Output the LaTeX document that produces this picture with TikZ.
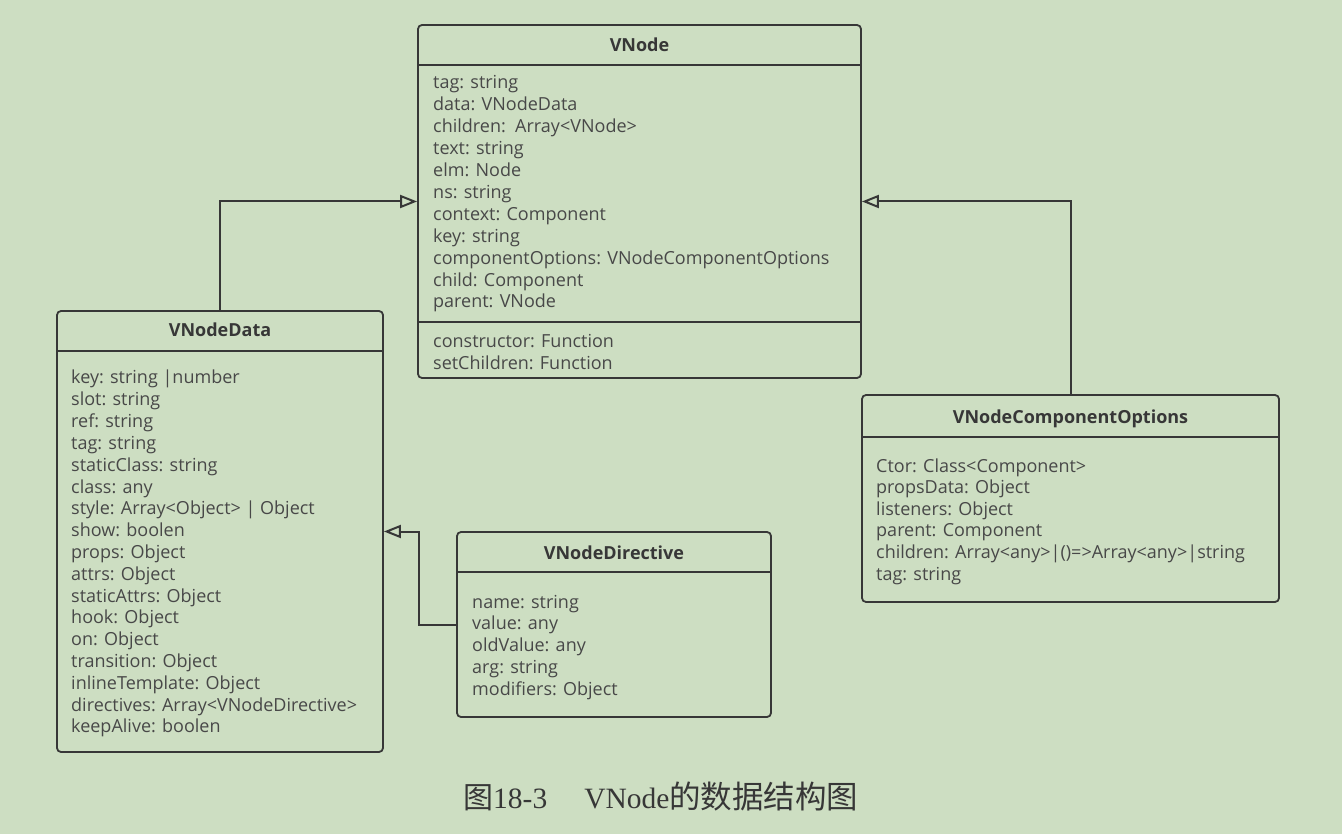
\documentclass[tikz,border=0pt]{standalone}
\usepackage{fontspec}
\setmainfont{Open Sans}
\newfontfamily\capserif{Liberation Serif}
\newfontfamily\cjk{Noto Sans CJK SC}
\usetikzlibrary{arrows.meta}
\definecolor{bg}{RGB}{205,222,194}
\definecolor{ln}{RGB}{55,55,55}
\definecolor{tx}{RGB}{72,72,72}
\begin{document}
\begin{tikzpicture}[x=1pt,y=-1pt,
  cls/.style={draw=ln, line width=1.8pt, rounded corners=4pt, inner sep=0pt},
  attr/.style={anchor=base west, inner sep=0pt, font=\fontsize{18}{22}\selectfont, text=tx},
  ttl/.style={anchor=base, inner sep=0pt, font=\fontsize{18}{22}\selectfont\bfseries, text=ln},
  sepline/.style={draw=ln, line width=1.8pt},
  gen/.style={draw=ln, line width=2pt, -{Triangle[open, length=17pt, width=13pt]}}]
\fill[bg] (0,0) rectangle (1342,834);
\useasboundingbox (0,0) rectangle (1342,834);

% ---------- boxes
\node[cls, minimum width=443pt, minimum height=353pt] (vnode) at (639.5,201.5) {};
\node[cls, minimum width=326pt, minimum height=441pt] (vdata) at (220,531.5) {};
\node[cls, minimum width=417pt, minimum height=207pt] (vco) at (1070.5,498.5) {};
\node[cls, minimum width=314pt, minimum height=185pt] (vnd) at (614,624.5) {};

% ---------- compartment lines
\draw[sepline] (vnode.west |- 0,65) -- (vnode.east |- 0,65);
\draw[sepline] (vnode.west |- 0,322) -- (vnode.east |- 0,322);
\draw[sepline] (vdata.west |- 0,351) -- (vdata.east |- 0,351);
\draw[sepline] (vco.west |- 0,437) -- (vco.east |- 0,437);
\draw[sepline] (vnd.west |- 0,572) -- (vnd.east |- 0,572);

% ---------- titles
\node[ttl] (tvnode) at (639.5,52) {VNode};
\node[ttl] (tvdata) at (220,337) {VNodeData};
\node[ttl] (tvco) at (1070.5,423) {VNodeComponentOptions};
\node[ttl] (tvnd) at (614,559) {VNodeDirective};

% ---------- attributes
\foreach \t [count=\i from 0] in {tag: string, data: VNodeData, children:\ \ Array<VNode>, text: string, elm: Node, ns: string, context: Component, key: string, componentOptions: VNodeComponentOptions, child: Component, parent: VNode}
  \node[attr] (vna\i) at (433,{89+21.9*\i}) {\t};
\node[attr] (vnm0) at (433,348) {constructor: Function};
\node[attr] (vnm1) at (433,370) {setChildren: Function};

\foreach \t [count=\i from 0] in {key: string |number, slot: string, ref: string, tag: string, staticClass: string, class: any, style: Array<Object> | Object, show: boolen, props: Object, attrs: Object, staticAttrs: Object, hook: Object, on: Object, transition: Object, inlineTemplate: Object, directives: Array<VNodeDirective>, keepAlive: boolen}
  \node[attr] (vda\i) at (71,{384+21.8*\i}) {\t};

\foreach \t [count=\i from 0] in {Ctor: Class<Component>, propsData: Object, listeners: Object, parent: Component, children: Array<any>|()=>Array<any>|string, tag: string}
  \node[attr] (vcoa\i) at (876,{472+21.6*\i}) {\t};

\foreach \t [count=\i from 0] in {name: string, value: any, oldValue: any, arg: string, modifiers: Object}
  \node[attr] (vnda\i) at (472,{608+21.75*\i}) {\t};

% ---------- generalisations
\draw[gen] (vdata.north) |- (vnode.west);
\draw[gen] (vco.north) |- (vnode.east);
\draw[gen] (vnd.west) -- ++(-37,0) |- (vdata.east);

% ---------- caption
\node[anchor=base west, inner sep=0pt, text=ln, font=\fontsize{29.5}{32}\selectfont\capserif] (cap) at (463,808)
  {{\cjk\fontsize{30}{32}\selectfont 图}18-3\hspace{37pt}VNode{\cjk\fontsize{31.5}{32}\selectfont 的数据结构图}};
\end{tikzpicture}
\end{document}
